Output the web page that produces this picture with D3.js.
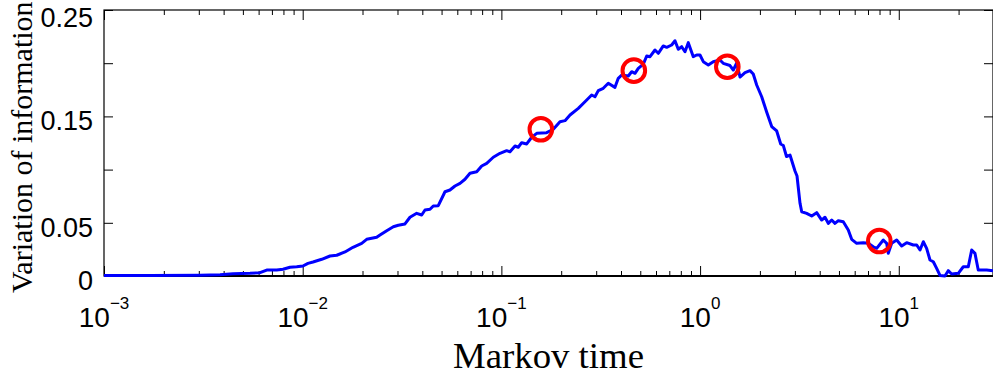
<!DOCTYPE html>
<html>
<head>
<meta charset="utf-8">
<script src="https://cdn.jsdelivr.net/npm/d3@7"></script>
<style>
  html, body { margin: 0; padding: 0; background: #fff; overflow: hidden; }
  svg { display: block; }
</style>
</head>
<body>
<svg id="chart" width="993" height="375"></svg>
<script>
// Markov time (x) and variation of information (y)
const times = [
  0.001, 0.001705, 0.00304, 0.00384, 0.00446, 0.00543, 0.0061, 0.00659, 0.0074, 0.00796,
  0.00863, 0.00933, 0.01003, 0.01063, 0.01127, 0.01247, 0.01372, 0.01483, 0.01633, 0.01791,
  0.01981, 0.02099, 0.02357, 0.02449, 0.02648, 0.02858, 0.03028, 0.03272, 0.03467, 0.03748,
  0.03971, 0.04126, 0.04372, 0.04543, 0.04813, 0.05202, 0.0551, 0.05841, 0.0619, 0.06558,
  0.0695, 0.07513, 0.07962, 0.08433, 0.09104, 0.0984, 0.1063, 0.1105, 0.1171, 0.1216,
  0.1265, 0.1341, 0.1421, 0.1506, 0.169, 0.1825, 0.1972, 0.209, 0.2215, 0.2438,
  0.2634, 0.2847, 0.2958, 0.3074, 0.3257, 0.3451, 0.3729, 0.3875, 0.4031, 0.4352,
  0.4526, 0.4702, 0.4887, 0.5179, 0.5387, 0.5597, 0.5929, 0.6161, 0.6528, 0.679,
  0.7195, 0.7475, 0.7767, 0.808, 0.8395, 0.8722, 0.9243, 0.9614, 0.9989, 1.038,
  1.1, 1.165, 1.259, 1.308, 1.414, 1.47, 1.529, 1.588, 1.683, 1.783,
  1.852, 1.927, 2.042, 2.163, 2.293, 2.43, 2.545, 2.623, 2.722, 2.835,
  3.004, 3.075, 3.184, 3.247, 3.439, 3.645, 3.862, 4.093, 4.252, 4.418,
  4.596, 4.775, 4.961, 5.257, 5.57, 5.794, 6.14, 6.627, 7.022, 7.441,
  7.74, 8.356, 8.692, 8.854, 9.211, 9.759, 10.34, 10.96, 11.83, 12.31,
  12.79, 13.29, 13.81, 14.36, 14.92, 15.51, 16.12, 17.08, 17.74, 18.46,
  19.93, 21.12, 22.38, 23.28, 24.18, 25.12, 27.7, 29.8
];
const voi = [
  0.0005, 0.0005, 0.0008, 0.0011, 0.0021, 0.0025, 0.0031, 0.0056, 0.0056, 0.0063,
  0.0082, 0.0087, 0.0094, 0.0119, 0.0132, 0.0157, 0.0188, 0.0195, 0.0226, 0.027,
  0.0307, 0.0345, 0.0364, 0.0385, 0.0426, 0.0463, 0.0477, 0.0489, 0.0552, 0.0589,
  0.0573, 0.062, 0.0627, 0.0658, 0.0661, 0.0792, 0.0808, 0.0846, 0.0871, 0.0909,
  0.0965, 0.098, 0.1034, 0.1059, 0.1116, 0.1153, 0.1178, 0.1168, 0.1222, 0.121,
  0.1253, 0.1241, 0.1304, 0.1341, 0.1347, 0.1379, 0.145, 0.146, 0.1513, 0.1576,
  0.1638, 0.1701, 0.1685, 0.1742, 0.1764, 0.1811, 0.1773, 0.1858, 0.1889, 0.188,
  0.192, 0.1905, 0.1952, 0.1992, 0.2068, 0.2061, 0.2124, 0.2093, 0.2162, 0.2149,
  0.2171, 0.2211, 0.2131, 0.2155, 0.2108, 0.2193, 0.2061, 0.2077, 0.2077, 0.2014,
  0.1983, 0.2014, 0.203, 0.1999, 0.1978, 0.1936, 0.2002, 0.187, 0.1911, 0.193,
  0.1898, 0.1795, 0.1685, 0.1541, 0.1405, 0.1363, 0.1241, 0.1227, 0.1123, 0.1137,
  0.0987, 0.094, 0.0683, 0.0604, 0.0589, 0.0564, 0.0595, 0.0526, 0.0552, 0.0495,
  0.0526, 0.0495, 0.052, 0.051, 0.0432, 0.0345, 0.0307, 0.0313, 0.0307, 0.0275,
  0.026, 0.0338, 0.0307, 0.0213, 0.0307, 0.0338, 0.0282, 0.0313, 0.0291, 0.0291,
  0.0244, 0.0322, 0.026, 0.015, 0.0134, 0.0072, 0.0005, 0.0, 0.005, 0.0019,
  0.0025, 0.0087, 0.0087, 0.0244, 0.0213, 0.0056, 0.0056, 0.005
];

// highlighted points (red circles)
const markTimes = [0.158, 0.464, 1.371, 7.98];
const markVoi = [0.1379, 0.193, 0.1967, 0.0329];

const xMajor = [0.001, 0.01, 0.1, 1, 10];
const xExps = ["\u22123", "\u22122", "\u22121", "0", "1"];
const yTicks = [0, 0.05, 0.1, 0.15, 0.2, 0.25];
const yLabels = ["0", "0.05", "", "0.15", "", "0.25"];

const svg = d3.select("#chart");
const margin = { top: 10, right: 0, bottom: 99, left: 104 };
const width = 993, height = 375;
const x0 = margin.left, x1 = width - margin.right;
const y0 = height - margin.bottom, y1 = margin.top;

const x = d3.scaleLog().domain([0.001, 29.8]).range([x0, x1]);
const y = d3.scaleLinear().domain([0, 0.25]).range([y0, y1]);

// minor ticks 2..9 per decade
const xMinor = [];
[0.001, 0.01, 0.1, 1, 10].forEach((d) => {
  for (let k = 2; k <= 9; k++) {
    const v = d * k;
    if (v <= 29.8) xMinor.push(v);
  }
});

function styleAxis(g) {
  g.select(".domain").remove();
  g.selectAll(".tick line").attr("stroke", "#000").attr("stroke-width", 1);
  g.selectAll(".tick text").remove();
}

// frame
svg.append("rect")
  .attr("x", x0).attr("y", y1)
  .attr("width", x1 - x0).attr("height", y0 - y1)
  .attr("fill", "none").attr("stroke", "#000").attr("stroke-width", 1.2);

// x ticks bottom + top
svg.append("g").attr("transform", `translate(0,${y0})`)
  .call(d3.axisBottom(x).tickValues(xMajor).tickSize(-10)).call(styleAxis);
svg.append("g").attr("transform", `translate(0,${y0})`)
  .call(d3.axisBottom(x).tickValues(xMinor).tickSize(-5)).call(styleAxis);
svg.append("g").attr("transform", `translate(0,${y1})`)
  .call(d3.axisTop(x).tickValues(xMajor).tickSize(-10)).call(styleAxis);
svg.append("g").attr("transform", `translate(0,${y1})`)
  .call(d3.axisTop(x).tickValues(xMinor).tickSize(-5)).call(styleAxis);

// y ticks left + right
svg.append("g").attr("transform", `translate(${x0},0)`)
  .call(d3.axisLeft(y).tickValues(yTicks).tickSize(-9)).call(styleAxis);
svg.append("g").attr("transform", `translate(${x1},0)`)
  .call(d3.axisRight(y).tickValues(yTicks).tickSize(-9)).call(styleAxis);

// bottom axis line a bit heavier
svg.append("line")
  .attr("x1", x0).attr("x2", x1).attr("y1", y0).attr("y2", y0)
  .attr("stroke", "#000").attr("stroke-width", 2);

// y tick labels
svg.append("g").selectAll("text")
  .data(yTicks.filter((d, i) => yLabels[i] !== ""))
  .join("text")
  .attr("x", x0 - 11)
  .attr("y", (d) => Math.max(y(d) + 4, 17.5))
  .attr("dy", "0.36em")
  .attr("text-anchor", "end")
  .attr("font-family", "'Liberation Sans', Arial, sans-serif")
  .attr("font-size", 27)
  .text((d) => yLabels[yTicks.indexOf(d)]);

// x tick labels 10^k
const xl = svg.append("g").selectAll("text")
  .data(xMajor)
  .join("text")
  .attr("x", (d) => x(d))
  .attr("y", 327)
  .attr("text-anchor", "middle")
  .attr("font-family", "'Liberation Sans', Arial, sans-serif")
  .attr("font-size", 28);
xl.append("tspan").text("10");
xl.append("tspan")
  .attr("dy", -18)
  .attr("font-size", 17)
  .text((d, i) => xExps[i]);

// axis titles
svg.append("text")
  .attr("x", (x0 + x1) / 2)
  .attr("y", 368)
  .attr("text-anchor", "middle")
  .attr("font-family", "'Liberation Serif', 'Times New Roman', serif")
  .attr("font-size", 35)
  .attr("textLength", 191)
  .attr("lengthAdjust", "spacingAndGlyphs")
  .text("Markov time");

svg.append("text")
  .attr("transform", "translate(32,293) rotate(-90)")
  .attr("text-anchor", "start")
  .attr("font-family", "'Liberation Serif', 'Times New Roman', serif")
  .attr("font-size", 30)
  .text("Variation of information");

// curve
const series = times.map((t, i) => ({ t: t, v: voi[i] }));
const line = d3.line().x((d) => x(d.t)).y((d) => y(d.v));
svg.append("path")
  .datum(series)
  .attr("d", line)
  .attr("fill", "none")
  .attr("stroke", "#0000ff")
  .attr("stroke-width", 3)
  .attr("stroke-linejoin", "round");

// red circles
svg.append("g").selectAll("circle")
  .data(markTimes)
  .join("circle")
  .attr("cx", (d) => x(d))
  .attr("cy", (d, i) => y(markVoi[i]))
  .attr("r", 11.3)
  .attr("fill", "none")
  .attr("stroke", "#ff0000")
  .attr("stroke-width", 4);
</script>
</body>
</html>
